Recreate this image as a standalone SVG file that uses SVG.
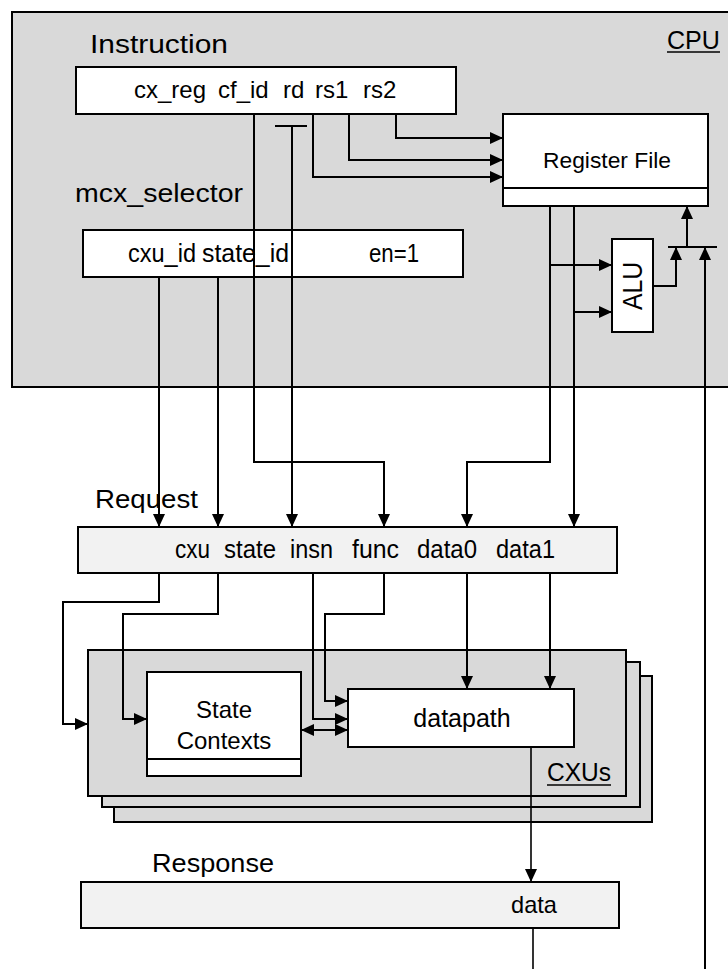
<svg xmlns="http://www.w3.org/2000/svg" width="728" height="969" viewBox="0 0 728 969">
<style>
text{font-family:"Liberation Sans",Arial,sans-serif;fill:#000}
.box{stroke:#000;stroke-width:2}
.gray{fill:#d9d9d9}
.white{fill:#fff}
.light{fill:#f2f2f2}
.c path{fill:none;stroke:#000;stroke-width:2}
.c path.a{marker-end:url(#ah)}
.c path.thin{stroke-width:1.6}
</style>
<defs>
<marker id="ah" markerUnits="userSpaceOnUse" markerWidth="13" markerHeight="12" refX="13" refY="6" orient="auto-start-reverse" viewBox="0 0 13 12">
<path d="M0,0 L13,6 L0,12 z" fill="#000"/>
</marker>
</defs>
<rect width="728" height="969" fill="#fff"/>

<g id="cpu">
<rect class="box gray" x="12" y="12" width="730" height="375"/>
<text x="667" y="49" font-size="26" textLength="53" lengthAdjust="spacingAndGlyphs">CPU</text>
<line x1="667" y1="52" x2="720" y2="52" stroke="#000" stroke-width="1.5"/>
</g>

<g id="instruction">
<text x="90" y="53" font-size="26" textLength="138" lengthAdjust="spacingAndGlyphs">Instruction</text>
<rect class="box white" x="76" y="67" width="380" height="47"/>
<text y="98" font-size="24"><tspan x="134" textLength="72" lengthAdjust="spacingAndGlyphs">cx_reg</tspan><tspan x="218">cf_id</tspan><tspan x="283">rd</tspan><tspan x="315">rs1</tspan><tspan x="363">rs2</tspan></text>
</g>

<g id="mcx_selector">
<text x="75" y="202" font-size="26" textLength="168" lengthAdjust="spacingAndGlyphs">mcx_selector</text>
<rect class="box white" x="83" y="230" width="380" height="47"/>
<text y="262" font-size="25"><tspan x="128" textLength="68" lengthAdjust="spacingAndGlyphs">cxu_id</tspan><tspan x="202" textLength="87" lengthAdjust="spacingAndGlyphs">state_id</tspan><tspan x="369" textLength="50" lengthAdjust="spacingAndGlyphs">en=1</tspan></text>
</g>

<g id="register_file">
<rect class="box white" x="503" y="114" width="205" height="92"/>
<line x1="503" y1="188" x2="708" y2="188" stroke="#000" stroke-width="2"/>
<text x="543" y="168" font-size="22" textLength="128" lengthAdjust="spacingAndGlyphs">Register File</text>
</g>

<g id="alu">
<rect class="box white" x="612" y="239" width="41" height="93"/>
<text transform="translate(642,286) rotate(-90)" text-anchor="middle" font-size="27" textLength="48" lengthAdjust="spacingAndGlyphs">ALU</text>
</g>

<g id="request">
<text x="95" y="508" font-size="26" textLength="103" lengthAdjust="spacingAndGlyphs">Request</text>
<rect class="box light" x="78" y="527" width="539" height="46"/>
<text y="558" font-size="25"><tspan x="175" textLength="35" lengthAdjust="spacingAndGlyphs">cxu</tspan><tspan x="224" textLength="52" lengthAdjust="spacingAndGlyphs">state</tspan><tspan x="290" textLength="43" lengthAdjust="spacingAndGlyphs">insn</tspan><tspan x="352" textLength="47" lengthAdjust="spacingAndGlyphs">func</tspan><tspan x="417" textLength="60" lengthAdjust="spacingAndGlyphs">data0</tspan><tspan x="496" textLength="59" lengthAdjust="spacingAndGlyphs">data1</tspan></text>
</g>

<g id="cxus">
<rect class="box gray" x="114" y="676" width="538" height="146"/>
<rect class="box gray" x="102" y="662" width="538" height="145"/>
<rect class="box gray" x="88" y="650" width="538" height="146"/>
<text x="547" y="781" font-size="25" textLength="64" lengthAdjust="spacingAndGlyphs">CXUs</text>
<line x1="547" y1="785" x2="611" y2="785" stroke="#000" stroke-width="1.5"/>
</g>

<g id="state_contexts">
<rect class="box white" x="147" y="672" width="154" height="104"/>
<line x1="147" y1="759" x2="301" y2="759" stroke="#000" stroke-width="2"/>
<text x="224" y="718" font-size="24" text-anchor="middle">State</text>
<text x="224" y="749" font-size="24" text-anchor="middle">Contexts</text>
</g>

<g id="datapath">
<rect class="box white" x="348" y="689" width="226" height="58"/>
<text x="462" y="727" font-size="25" text-anchor="middle">datapath</text>
</g>

<g id="response">
<text x="152" y="872" font-size="26" textLength="122" lengthAdjust="spacingAndGlyphs">Response</text>
<rect class="box light" x="81" y="882" width="538" height="46"/>
<text x="511" y="913" font-size="24" textLength="46" lengthAdjust="spacingAndGlyphs">data</text>
</g>

<g id="connectors" class="c">
<path class="a" d="M396,114 V138 H503"/>
<path class="a" d="M349,114 V160 H503"/>
<path class="a" d="M313,114 V177 H503"/>
<path class="a" d="M254,114 V462 H384 V527"/>
<path d="M275,126 H307"/>
<path class="a" d="M292,126 V527"/>
<path class="a" d="M159,277 V527"/>
<path class="a" d="M218,277 V527"/>
<path class="a" d="M550,206 V462 H467 V527"/>
<path class="a" d="M574,206 V527"/>
<path class="a" d="M550,265 H612"/>
<path class="a" d="M574,312 H612"/>
<path class="a" d="M653,286 H676 V247"/>
<path d="M668,247 H717"/>
<path class="a" d="M687,247 V206"/>
<path class="a" d="M705,969 V247"/>
<path class="a" d="M159,573 V602 H63 V724 H88"/>
<path class="a" d="M218,573 V614 H123 V719 H147"/>
<path class="a" d="M313,573 V719 H348"/>
<path class="a" d="M384,573 V614 H325 V701 H348"/>
<path class="a" d="M467,573 V689"/>
<path class="a" d="M550,573 V689"/>
<path class="a" d="M301,730 H348" marker-start="url(#ah)"/>
<path class="a thin" d="M531,747 V882"/>
<path class="thin" d="M533,928 V969"/>
</g>
</svg>
